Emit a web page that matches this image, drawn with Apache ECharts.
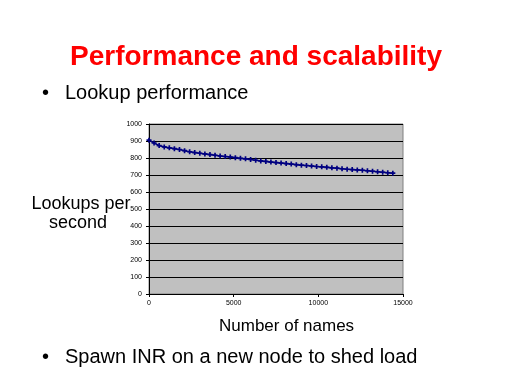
<!DOCTYPE html>
<html><head><meta charset="utf-8">
<script src="https://cdn.jsdelivr.net/npm/echarts@6/dist/echarts.min.js"></script>
<style>html,body{margin:0;padding:0;background:#fff}#c{width:512px;height:384px}</style>
</head><body><div id="c"></div>
<script>
const names = [0,300,600,900,1200,1500,1800,2100,2400,2700,3000,3300,3600,3900,4200,4500,4800,5100,5400,5700,6000,6300,6600,6900,7200,7500,7800,8100,8400,8700,9000,9300,9600,9900,10200,10500,10800,11100,11400,11700,12000,12300,12600,12900,13200,13500,13800,14100,14400];
const lookups = [905,888,873,865,860,855,850,843,837,832,828,824,820,816,812,809,806,802,798,795,791,787,783,780,776,773,770,767,764,761,758,756,753,750,748,745,742,740,737,734,732,730,728,725,722,719,716,713,711];
const titleText = 'Performance and scalability';
const bullet1 = 'Lookup performance';
const bullet2 = 'Spawn INR on a new node to shed load';
const yName = ['Lookups per', 'second'];
const xName = 'Number of names';

const chart = echarts.init(document.getElementById('c'), null, {renderer:'canvas'});
const font = 'Liberation Sans, Arial, sans-serif';
chart.setOption({
  backgroundColor:'#fff',
  animation:false,
  title:{text:titleText, left:'center', top:38, textStyle:{color:'#ff0000', fontSize:28, fontWeight:'bold', fontFamily:font}},
  graphic:[
    {type:'text', x:42, y:83, style:{text:'•', font:'20px '+font, fill:'#000'}},
    {type:'text', x:65, y:83, style:{text:bullet1, font:'20px '+font, fill:'#000'}},
    {type:'text', x:42, y:347, style:{text:'•', font:'20px '+font, fill:'#000'}},
    {type:'text', x:65, y:347, style:{text:bullet2, font:'20px '+font, fill:'#000'}},
    {type:'text', x:81, y:195, style:{text:yName[0], align:'center', font:'18px '+font, fill:'#000'}},
    {type:'text', x:78, y:214, style:{text:yName[1], align:'center', font:'18px '+font, fill:'#000'}},
    {type:'text', x:219, y:318, style:{text:xName, font:'17px '+font, fill:'#000'}}
  ],
  grid:{left:149, right:109, top:124, bottom:90, show:true, backgroundColor:'#c0c0c0', borderColor:'#808080', borderWidth:1},
  xAxis:{type:'value', min:0, max:15000, interval:5000,
    axisLine:{show:true, onZero:false, lineStyle:{color:'#000'}},
    axisTick:{show:true, length:3, lineStyle:{color:'#000'}},
    splitLine:{show:false},
    axisLabel:{fontSize:7, color:'#000', fontFamily:font, margin:6, formatter:v=>String(v)}},
  yAxis:{type:'value', min:0, max:1000, interval:100,
    axisLine:{show:true, lineStyle:{color:'#000'}},
    axisTick:{show:true, length:3, lineStyle:{color:'#000'}},
    splitLine:{show:true, lineStyle:{color:'#000', width:1}},
    axisLabel:{fontSize:7, color:'#000', fontFamily:font, margin:7, formatter:v=>String(v)}},
  series:[{type:'line', data:names.map((n,i)=>[n,lookups[i]]),
    lineStyle:{color:'#000080', width:1.5},
    itemStyle:{color:'#000080'},
    symbol:'path://M1,0H2V1H3V2H2V3H1V2H0V1H1Z', symbolSize:5, showSymbol:true}]
});
</script></body></html>
